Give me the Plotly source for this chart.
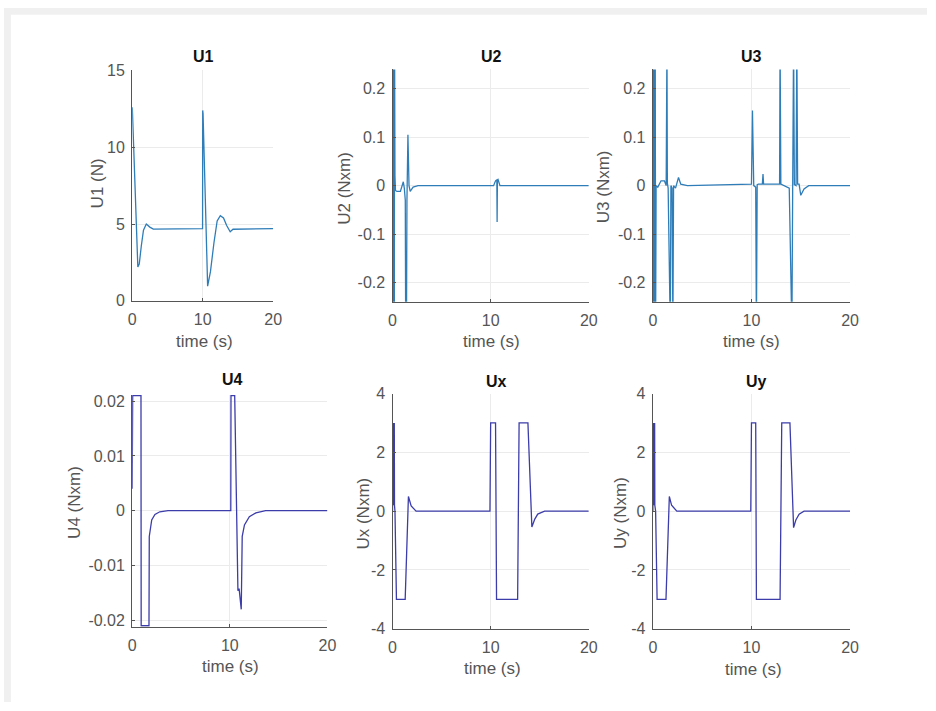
import plotly.graph_objects as go

W, H = 936, 711

# ---------------- data ----------------
t_u1 = [0, 0.03, 0.8, 1.0, 1.3, 1.6, 2.0, 2.5, 3.0, 9.98, 10.0, 10.05, 10.7, 11.1, 11.6,
        12.05, 12.5, 12.95, 13.4, 13.9, 14.3, 20]
u1 = [12.6, 12.4, 2.2, 2.4, 3.6, 4.6, 5.0, 4.8, 4.67, 4.7, 12.4, 12.2, 0.95, 1.9, 3.8,
      5.2, 5.55, 5.4, 4.9, 4.5, 4.66, 4.7]

t_u2 = [0, 0.03, 0.06, 0.09, 0.12, 0.15, 0.18, 0.21, 0.25, 0.3, 0.45, 0.8, 1.0, 1.1, 1.2,
        1.3, 1.34, 1.42, 1.47, 1.57, 1.68, 1.8, 2.1, 2.6, 10.3, 10.5, 10.63, 10.66, 10.69,
        10.75, 10.95, 11.2, 20]
u2 = [0, 0.3, -0.3, 0.3, -0.3, 0.3, -0.3, 0.3, 0.02, -0.01, -0.012, -0.012, 0.005, 0.008,
      -0.005, -0.03, -0.3, -0.3, -0.03, 0.105, 0.0, -0.012, -0.003, 0.0, 0.0, 0.01, 0.012,
      -0.075, 0.012, 0.013, 0.0, 0.0, 0.0]

t_u3 = [0, 0.03, 0.06, 0.1, 0.14, 0.17, 0.2, 0.24, 0.28, 0.33, 0.5, 0.83, 1.17, 1.35, 1.43,
        1.47, 1.55, 1.77, 1.83, 1.95, 2.03, 2.1, 2.3, 2.6, 2.83, 3.5, 10.0, 10.1, 10.23,
        10.43, 10.5, 10.58, 10.7, 11.1, 11.17, 11.23, 12.85, 12.9, 12.98, 13.83, 14.1, 14.18,
        14.27, 14.35, 14.52, 14.6, 14.68, 14.83, 15.0, 15.33, 15.8, 20]
u3 = [0, 0.3, -0.3, 0.3, -0.3, 0.13, -0.3, 0.3, -0.3, 0.0, -0.003, 0.01, 0.01, 0.0, 0.3,
      0.005, -0.005, -0.3, 0.0, -0.005, -0.3, 0.0, -0.005, 0.017, 0.003, 0.0, 0.003, 0.155,
      0.0, -0.003, -0.3, 0.002, 0.003, 0.003, 0.024, 0.003, 0.003, 0.3, 0.003, -0.005, -0.3,
      0.0, 0.3, 0.002, 0.0, 0.3, 0.003, 0.003, -0.02, -0.007, 0.0, 0.0]

t_u4 = [0, 0.05, 0.9, 0.92, 1.72, 1.75, 2.0, 2.33, 2.83, 3.67, 10.1, 10.12, 10.5, 10.83,
        10.95, 11.07, 11.17, 11.27, 11.5, 12.0, 12.67, 13.67, 20]
u4 = [0.004, 0.021, 0.021, -0.021, -0.021, -0.0047, -0.0017, -0.0007, -0.0002, 0.0, 0.0,
      0.021, 0.021, -0.0146, -0.0142, -0.0163, -0.018, -0.0047, -0.0026, -0.0011, -0.0004,
      0.0, 0.0]

t_ux = [0, 0.02, 0.04, 0.06, 0.08, 0.1, 0.12, 0.14, 0.16, 0.18, 0.2, 0.25, 0.4, 1.29, 1.62,
        1.9, 2.4, 9.93, 10.0, 10.5, 10.6, 12.75, 12.9, 13.8, 14.2, 14.5, 14.8, 15.5, 20]
ux = [0, 3, 0.2, 3, 0.2, 3, 0.2, 3, 0.2, 3, 0.2, 0.0, -3, -3, 0.5, 0.18, 0, 0, 3, 3, -3, -3,
      3, 3, -0.54, -0.27, -0.1, 0, 0]

t_uy = [0, 0.02, 0.04, 0.06, 0.08, 0.1, 0.12, 0.14, 0.16, 0.18, 0.2, 0.28, 0.43, 1.33, 1.67,
        1.9, 2.43, 9.93, 10.0, 10.43, 10.5, 12.9, 13.07, 13.9, 14.27, 14.5, 14.83, 15.33, 20]
uy = [0, 3, 0.2, 3, 0.2, 3, 0.2, 3, 0.2, 3, 0.2, 0.0, -3, -3, 0.5, 0.2, 0, 0, 3, 3, -3, -3,
      3, 3, -0.56, -0.3, -0.1, 0, 0]

titles = ["U1", "U2", "U3", "U4", "Ux", "Uy"]
ylabels = ["U1 (N)", "U2 (Nxm)", "U3 (Nxm)", "U4 (Nxm)", "Ux (Nxm)", "Uy (Nxm)"]
x_ticks = [0, 10, 20]
x_ticktext = ["0", "10", "20"]
y_ticks = [
    [0, 5, 10, 15],
    [-0.2, -0.1, 0, 0.1, 0.2],
    [-0.2, -0.1, 0, 0.1, 0.2],
    [-0.02, -0.01, 0, 0.01, 0.02],
    [-4, -2, 0, 2, 4],
    [-4, -2, 0, 2, 4],
]
y_ticktext = [
    ["0", "5", "10", "15"],
    ["-0.2", "-0.1", "0", "0.1", "0.2"],
    ["-0.2", "-0.1", "0", "0.1", "0.2"],
    ["-0.02", "-0.01", "0", "0.01", "0.02"],
    ["-4", "-2", "0", "2", "4"],
    ["-4", "-2", "0", "2", "4"],
]
y_ranges = [[0, 15], [-0.24, 0.24], [-0.24, 0.24], [-0.0212, 0.0212], [-4, 4], [-4, 4]]

series = [(t_u1, u1), (t_u2, u2), (t_u3, u3), (t_u4, u4), (t_ux, ux), (t_uy, uy)]
colors = ["#2f7db8", "#2f7db8", "#2f7db8", "#3c3caa", "#3c3caa", "#3c3caa"]

# ---------------- layout (pixel boxes) ----------------
boxes = [  # left, right, top, bottom in px
    (130, 273, 64, 300),
    (394, 593, 63, 301),
    (658, 858, 63, 301),
    (130, 328, 396, 634),
    (394, 593, 395, 636),
    (658, 858, 395, 636),
]
title_pos = [(202, 50), (494, 50), (758, 50), (232, 381), (499, 383), (763, 383)]
xlab_pos = [(203, 342), (494, 342), (758, 342), (230, 675), (495, 677), (760, 678)]
ylab_pos = [(95, 180), (345, 185), (608, 183), (72, 507), (365, 518), (625, 517)]

FONT = "Liberation Sans, Arial, sans-serif"
fig = go.Figure()
layout = dict(
    width=W, height=H, margin=dict(l=0, r=0, t=0, b=0),
    paper_bgcolor="white", plot_bgcolor="white", showlegend=False,
    font=dict(family=FONT, size=16, color="#555555"),
)
annotations = []
for i in range(6):
    k = "" if i == 0 else str(i + 1)
    t, v = series[i]
    fig.add_trace(go.Scatter(x=t, y=v, mode="lines", xaxis="x" + k, yaxis="y" + k,
                             line=dict(color=colors[i], width=1.3), hoverinfo="skip"))
    l, r, tp, b = boxes[i]
    layout["xaxis" + k] = dict(
        domain=[l / W, r / W], anchor="y" + k, range=[0, 20], tickvals=x_ticks,
        ticktext=x_ticktext,
        showgrid=True, gridcolor="#ebebeb", gridwidth=1, zeroline=False,
        showline=True, linecolor="#555555", linewidth=1.3, ticks="inside", ticklen=3,
        tickcolor="#555555", ticklabelstandoff=4, tickfont=dict(size=16, color="#555555"),
    )
    layout["yaxis" + k] = dict(
        domain=[1 - b / H, 1 - tp / H], anchor="x" + k, range=y_ranges[i], tickvals=y_ticks[i],
        ticktext=y_ticktext[i],
        showgrid=True, gridcolor="#ebebeb", gridwidth=1, zeroline=False,
        showline=True, linecolor="#555555", linewidth=1.3, ticks="inside", ticklen=3,
        tickcolor="#555555", ticklabelstandoff=3, tickfont=dict(size=16, color="#555555"),
    )
    annotations.append(dict(text="<b>" + titles[i] + "</b>", x=title_pos[i][0] / W,
                            y=1 - title_pos[i][1] / H, xref="paper", yref="paper",
                            showarrow=False, font=dict(size=16, color="#111111"),
                            xanchor="center", yanchor="middle"))
    annotations.append(dict(text="time (s)", x=xlab_pos[i][0] / W, y=1 - xlab_pos[i][1] / H,
                            xref="paper", yref="paper", showarrow=False,
                            font=dict(size=17, color="#555555"),
                            xanchor="center", yanchor="middle"))
    annotations.append(dict(text=ylabels[i], x=ylab_pos[i][0] / W, y=1 - ylab_pos[i][1] / H,
                            xref="paper", yref="paper", showarrow=False, textangle=-90,
                            font=dict(size=17, color="#555555"),
                            xanchor="center", yanchor="middle"))

layout["annotations"] = annotations
layout["shapes"] = [
    dict(type="rect", xref="paper", yref="paper", x0=0, x1=7 / W, y0=0, y1=1,
         fillcolor="#f0f0f0", line=dict(width=0), layer="below"),
    dict(type="rect", xref="paper", yref="paper", x0=0, x1=1, y0=1 - 7 / H, y1=1,
         fillcolor="#f0f0f0", line=dict(width=0), layer="below"),
]
fig.update_layout(**layout)
fig.write_html("out.html", config={"displayModeBar": False},
               post_script="document.body.style.margin='0px';"
                           "document.body.style.overflow='hidden';")
